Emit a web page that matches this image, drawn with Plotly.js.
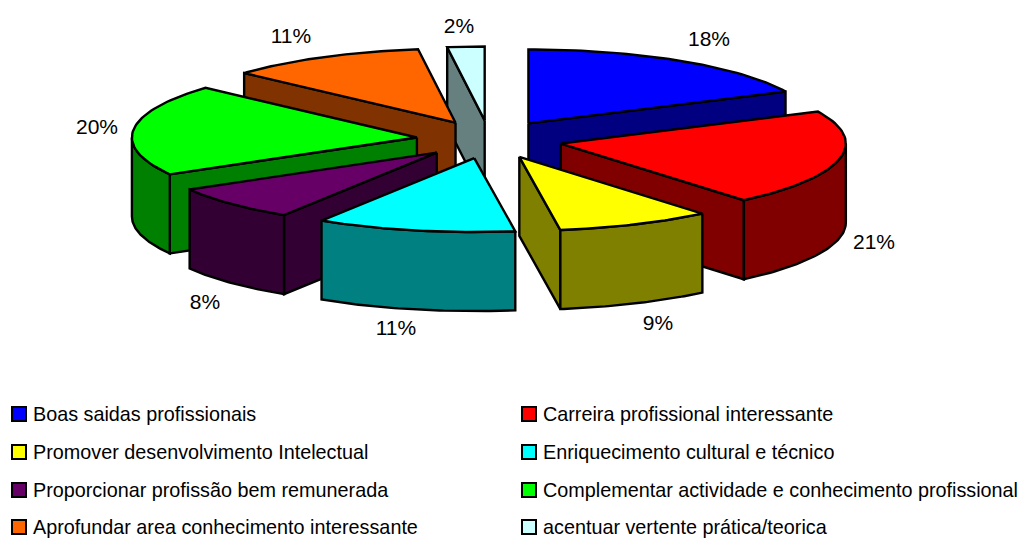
<!DOCTYPE html>
<html><head><meta charset="utf-8">
<script src="https://cdn.plot.ly/plotly-3.0.1.min.js"></script>
<style>html,body{margin:0;padding:0;background:#fff}#c{width:1021px;height:538px}</style>
</head><body><div id="c"></div>
<script>
const categories = ["Boas saidas profissionais","Carreira profissional interessante","Promover desenvolvimento Intelectual","Enriquecimento cultural e técnico","Proporcionar profissão bem remunerada","Complementar actividade e conhecimento profissional","Aprofundar area conhecimento interessante","acentuar vertente prática/teorica"];
const shares = [17.9,21.0,8.8,11.3,7.7,20.0,11.2,2.1];
const topColors = ["#0000FF","#FF0000","#FFFF00","#00FFFF","#660066","#00FF00","#FF6600","#CCFFFF"];
const sideColors = ["#000080","#800000","#808000","#008080","#330033","#008000","#803300","#668080"];
const paintOrder = [7,6,5,4,0,1,2,3];
const labelX = [709,874,658,396,205,97,291,459];
const labelY = [41,244,325,330,304,129,38,28];

// pie projection, in page pixels
const cx=489.5, cy=139.5, explodeX=73, explodeY=19, radX=285, radY=74, depth=79;
const legendColX=[19,529], legendRowY=[414,452,490,527], legendTextGap=14, legendTextDrop=2;
const font="Liberation Sans", ink="#000";
const rad=d=>d*Math.PI/180;
const traces=[];
function poly(xs,ys,color,name){
  traces.push({type:"scatter",mode:"lines",x:[...xs,xs[0]],y:[...ys,ys[0]],fill:"toself",fillcolor:color,
    line:{color:ink,width:2.4,shape:"linear"},hoverinfo:"skip",showlegend:false,name:name});
}
const total=shares.reduce((a,b)=>a+b,0);
let acc=0;
const wedges=shares.map(v=>{const s=acc/total*360;acc+=v;return {s,e:acc/total*360};});
paintOrder.forEach(i=>{
  const {s,e}=wedges[i], mid=rad((s+e)/2);
  const ax=cx+explodeX*Math.sin(mid), ay=cy-explodeY*Math.cos(mid);
  const px=t=>ax+radX*Math.sin(rad(t)), py=t=>ay-radY*Math.cos(rad(t));
  const wall=(t)=>poly([ax,px(t),px(t),ax],[ay,py(t),py(t)+depth,ay+depth],sideColors[i],categories[i]);
  if(Math.sin(rad(s))<-1e-6) wall(s);
  if(Math.sin(rad(e))>1e-6) wall(e);
  const a0=Math.max(s,90), a1=Math.min(e,270);
  if(a1>a0){
    const ts=[];for(let k=0;k<=48;k++)ts.push(a0+(a1-a0)*k/48);
    poly([...ts.map(px),...ts.slice().reverse().map(px)],
         [...ts.map(py),...ts.slice().reverse().map(t=>py(t)+depth)],sideColors[i],categories[i]);
  }
  const ts=[];for(let k=0;k<=48;k++)ts.push(s+(e-s)*k/48);
  poly([ax,...ts.map(px)],[ay,...ts.map(py)],topColors[i],categories[i]);
});
traces.push({type:"scatter",mode:"text",x:labelX,y:labelY,text:shares.map(v=>Math.round(v)+"%"),
  textposition:"middle center",textfont:{family:font,size:21,color:ink},hoverinfo:"skip",showlegend:false});
categories.forEach((c,i)=>{
  const col=i%2,row=Math.floor(i/2);
  traces.push({type:"scatter",mode:"markers",x:[legendColX[col]],y:[legendRowY[row]],
    marker:{symbol:"square",size:14,color:topColors[i],line:{color:ink,width:2}},hoverinfo:"skip",showlegend:false,name:c});
  traces.push({type:"scatter",mode:"text",x:[legendColX[col]+legendTextGap],y:[legendRowY[row]+legendTextDrop],text:[c],
    textposition:"middle right",textfont:{family:font,size:19.8,color:ink},hoverinfo:"skip",showlegend:false});
});
Plotly.newPlot("c",traces,{width:1021,height:538,margin:{l:0,r:0,t:0,b:0},paper_bgcolor:"#fff",plot_bgcolor:"#fff",showlegend:false,
  xaxis:{range:[0,1021],visible:false,fixedrange:true},
  yaxis:{range:[538,0],visible:false,fixedrange:true}},{displayModeBar:false,staticPlot:true});
</script></body></html>
